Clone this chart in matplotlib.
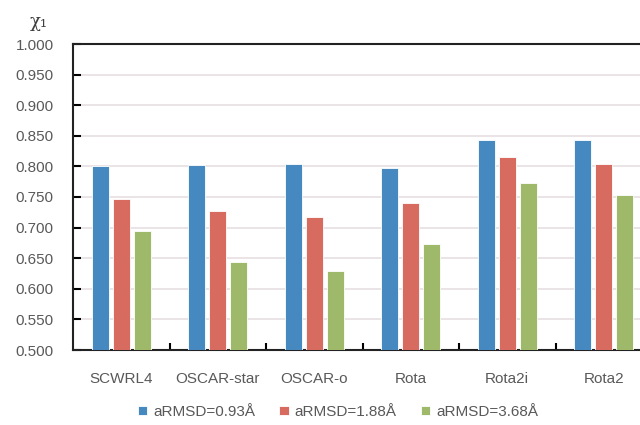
"""Столбчатая диаграмма точности χ1 для разных методов"""
import matplotlib
matplotlib.use("Agg")
import matplotlib.pyplot as plt
import numpy as np

methods = ["SCWRL4", "OSCAR-star", "OSCAR-o", "Rota", "Rota2i", "Rota2"]
series_names = ["aRMSD=0.93Å", "aRMSD=1.88Å", "aRMSD=3.68Å"]
rmsd_093 = [0.800, 0.802, 0.804, 0.797, 0.843, 0.843]
rmsd_188 = [0.747, 0.727, 0.718, 0.740, 0.815, 0.804]
rmsd_368 = [0.694, 0.643, 0.629, 0.674, 0.773, 0.753]
colors = ["#4689c0", "#d76b60", "#9fb96a"]
y_ticks = [0.5 + 0.05 * i for i in range(11)]

plt.rcParams["font.family"] = ["Liberation Sans", "DejaVu Sans"]

fig = plt.figure(figsize=(6.4, 4.25), dpi=100)
ax = fig.add_axes([73 / 640, 75 / 425, 579 / 640, 306 / 425])

x = np.arange(len(methods))
width = 0.176
step = 0.218
for i, (vals, name) in enumerate(zip([rmsd_093, rmsd_188, rmsd_368], series_names)):
    ax.bar(x + (i - 1) * step, vals, width, bottom=0, color=colors[i],
           edgecolor="white", linewidth=0.6, label=name, zorder=3)

# Оси и сетка
ax.set_ylim(0.5, 1.0)
ax.set_xlim(-0.5, len(methods) - 0.5)
ax.set_yticks(y_ticks)
ax.set_yticklabels([f"{v:.3f}" for v in y_ticks])
ax.set_xticks(x)
ax.set_xticklabels(methods)
ax.set_xticks(np.arange(len(methods) - 1) + 0.5, minor=True)
ax.tick_params(axis="x", which="major", length=0, pad=16, labelsize=11,
               labelcolor="#595959")
ax.tick_params(axis="x", which="minor", direction="in", length=5, width=1.5,
               color="black")
ax.tick_params(axis="y", direction="in", length=6, width=1.5, pad=14,
               labelsize=11, labelcolor="#595959")
ax.grid(axis="y", color="#e8dfe2", linewidth=1.2, zorder=0)
ax.spines["right"].set_visible(False)
for side in ["left", "top", "bottom"]:
    ax.spines[side].set_linewidth(1.5)
    ax.spines[side].set_color("#222222")

fig.text(30 / 640, 1 - 22 / 425, "χ₁", fontsize=13, color="#404040",
         family="DejaVu Serif", ha="left", va="center")

fig.legend(loc="center", bbox_to_anchor=(338 / 640, 1 - 412 / 425), ncol=3,
           frameon=False, fontsize=11, handlelength=0.6, handleheight=0.6,
           handletextpad=0.4, columnspacing=1.6, labelcolor="#595959")

fig.savefig("out.png", dpi=100)
